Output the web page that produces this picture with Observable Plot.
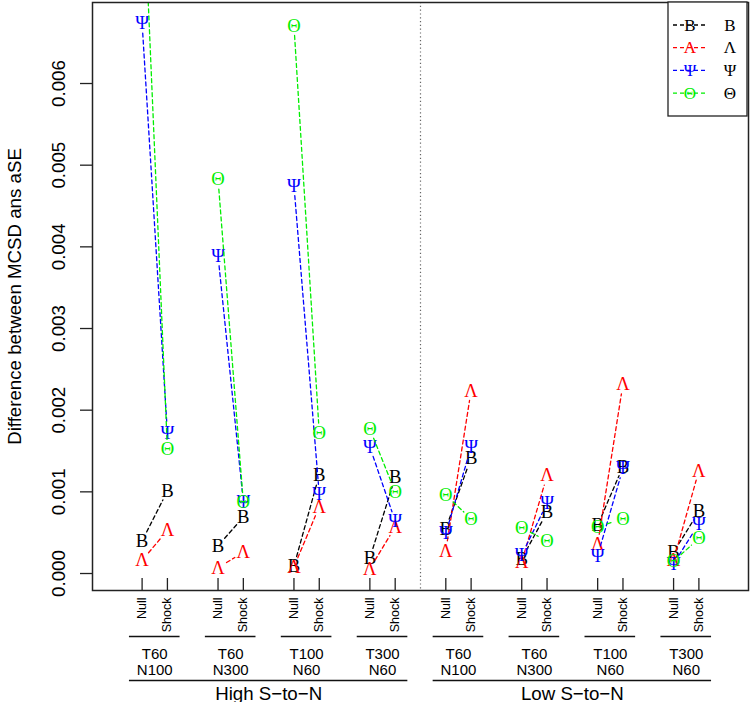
<!DOCTYPE html>
<html><head><meta charset="utf-8">
<script src="https://cdn.jsdelivr.net/npm/d3@7"></script>
<script src="https://cdn.jsdelivr.net/npm/@observablehq/plot@0.6"></script>
<style>body{margin:0;background:#fff}</style>
</head><body><div id="chart"></div>
<script>
// ---- data ----
const seriesNames = ["B", "Λ", "Ψ", "Θ"];
const seriesColors = ["#000000", "#ff0000", "#0000ff", "#00ee00"];
const groupLabels = ["T60\nN100", "T60\nN300", "T100\nN60", "T300\nN60", "T60\nN100", "T60\nN300", "T100\nN60", "T300\nN60"];
const halfLabels = ["High S−to−N", "Low S−to−N"];
const conditions = ["Null", "Shock"];
const yTicks = [0, 0.001, 0.002, 0.003, 0.004, 0.005, 0.006];
const yLabel = "Difference between MCSD ans aSE";
// values: per group, Null then Shock
const valuesB      = [0.00040, 0.00101, 0.00034, 0.00069, 0.00009, 0.00121, 0.00019, 0.00118, 0.00055, 0.00142, 0.00018, 0.00075, 0.00059, 0.00131, 0.00026, 0.00076];
const valuesLambda = [0.00016, 0.00053, 0.00007, 0.00026, 0.00008, 0.00082, 0.00006, 0.00057, 0.00028, 0.00224, 0.00014, 0.00120, 0.00036, 0.00232, 0.00016, 0.00126];
const valuesPsi    = [0.00674, 0.00172, 0.00389, 0.00088, 0.00475, 0.00097, 0.00155, 0.00064, 0.00049, 0.00155, 0.00023, 0.00086, 0.00022, 0.00129, 0.00012, 0.00061];
const valuesTheta  = [0.00875, 0.00152, 0.00483, 0.00087, 0.00671, 0.00172, 0.00177, 0.00100, 0.00096, 0.00067, 0.00056, 0.00040, 0.00057, 0.00067, 0.00015, 0.00043];
const seriesValues = [valuesB, valuesLambda, valuesPsi, valuesTheta];

// ---- layout helpers ----
const xOf = (g, c) => 1 + 3 * g + c;          // position on the x scale
const xDomain = [-0.96, 24.96];
const yDomain = [-0.000208, 0.006992];
const yLo = yDomain[0];

const rows = [];
seriesNames.forEach((s, si) => {
  seriesValues[si].forEach((v, k) => {
    const g = Math.floor(k / 2), c = k % 2;
    rows.push({series: s, si, group: g, cond: conditions[c], x: xOf(g, c), y: v});
  });
});
const ticksX = [];
groupLabels.forEach((_, g) => conditions.forEach((c, ci) => ticksX.push({x: xOf(g, ci), label: c})));
const groups = groupLabels.map((label, g) => ({label, x1: xOf(g, 0) - 0.5, x2: xOf(g, 1) + 0.5, cx: (xOf(g, 0) + xOf(g, 1)) / 2}));
const halves = halfLabels.map((label, h) => ({label, x1: xOf(4 * h, 0) - 0.5, x2: xOf(4 * h + 3, 1) + 0.5, cx: (xOf(4 * h, 0) + xOf(4 * h + 3, 1)) / 2}));

// curve like R type="b": segments with a gap around each point
function gapCurve(gap) {
  return (context) => {
    let pts = [];
    return {
      areaStart() {}, areaEnd() {},
      lineStart() { pts = []; },
      point(x, y) { pts.push([+x, +y]); },
      lineEnd() {
        for (let i = 1; i < pts.length; i++) {
          const [x0, y0] = pts[i - 1], [x1, y1] = pts[i];
          const dx = x1 - x0, dy = y1 - y0, L = Math.hypot(dx, dy);
          if (L <= 2 * gap) continue;
          const ux = dx / L, uy = dy / L;
          context.moveTo(x0 + ux * gap, y0 + uy * gap);
          context.lineTo(x1 - ux * gap, y1 - uy * gap);
        }
      }
    };
  };
}

const serif = "'Liberation Serif', 'Times New Roman', serif";
const seriesMarks = seriesNames.flatMap((s, si) => {
  const d = rows.filter(r => r.si === si);
  return [
    Plot.line(d, {x: "x", y: "y", z: "group", stroke: seriesColors[si], strokeWidth: 1.3,
      strokeDasharray: "4,3", curve: gapCurve(10), clip: true}),
    Plot.text(d, {x: "x", y: "y", text: "series", fill: seriesColors[si], fontFamily: serif,
      fontSize: 18.7, clip: true})
  ];
});

const chart = Plot.plot({
  width: 750, height: 702,
  marginTop: 2, marginBottom: 112, marginLeft: 92, marginRight: 2,
  style: {fontFamily: "'Liberation Sans', Arial, sans-serif", background: "#fff", color: "#000"},
  x: {type: "linear", domain: xDomain, axis: null},
  y: {type: "linear", domain: yDomain, axis: null},
  marks: [
    Plot.ruleX([12], {stroke: "#666", strokeWidth: 1.2, strokeDasharray: "1.2,2.6"}),
    ...seriesMarks,
    Plot.frame({stroke: "#222", strokeWidth: 1.5}),
    Plot.axisY({ticks: yTicks, tickSize: 12, tickFormat: () => "", label: null, strokeWidth: 1.3, stroke: "#222"}),
    Plot.text(yTicks, {y: d => d, text: d3.format(".3f"), frameAnchor: "left", textAnchor: "middle", lineAnchor: "middle",
      dx: -33.5, rotate: -90, fontSize: 18.7}),
    Plot.text([yLabel], {text: d => d, frameAnchor: "left", textAnchor: "middle", lineAnchor: "middle",
      dx: -77.5, rotate: -90, fontSize: 18.7}),
    Plot.ruleX(ticksX, {x: "x", insetTop: 576, stroke: "#222", strokeWidth: 1.3}),
    Plot.text(ticksX, {x: "x", text: "label", frameAnchor: "bottom", lineAnchor: "middle", dy: 7, rotate: -90,
      textAnchor: "end", fontSize: 12.5}),
    Plot.ruleY(groups, {x1: "x1", x2: "x2", y: () => yLo, dy: 46, stroke: "#111", strokeWidth: 1.5}),
    Plot.text(groups, {x: "cx", text: "label", frameAnchor: "bottom", lineAnchor: "middle", dy: 71,
      fontSize: 15, lineHeight: 1.07}),
    Plot.ruleY(halves, {x1: "x1", x2: "x2", y: () => yLo, dy: 90, stroke: "#111", strokeWidth: 1.5}),
    Plot.text(halves, {x: "cx", text: "label", frameAnchor: "bottom", lineAnchor: "middle", dy: 104, fontSize: 18.7})
  ]
});
document.getElementById("chart").appendChild(chart);

// legend (top-right, inside frame)
const svg = d3.select(chart);
const lg = svg.append("g");
lg.append("rect").attr("x", 668).attr("y", 2).attr("width", 79).attr("height", 114)
  .attr("fill", "#fff").attr("stroke", "#222").attr("stroke-width", 1.3);
seriesNames.forEach((s, i) => {
  const yy = 25 + 22.7 * i;
  lg.append("line").attr("x1", 673).attr("x2", 706).attr("y1", yy).attr("y2", yy)
    .attr("stroke", seriesColors[i]).attr("stroke-width", 1.3).attr("stroke-dasharray", "4,3");
  lg.append("text").attr("x", 690).attr("y", yy).attr("dy", "0.34em").attr("text-anchor", "middle")
    .attr("fill", seriesColors[i]).attr("font-family", serif).attr("font-size", 17).text(s);
  lg.append("text").attr("x", 730).attr("y", yy).attr("dy", "0.34em").attr("text-anchor", "middle")
    .attr("fill", "#000").attr("font-family", serif).attr("font-size", 17).text(s);
});
</script></body></html>
